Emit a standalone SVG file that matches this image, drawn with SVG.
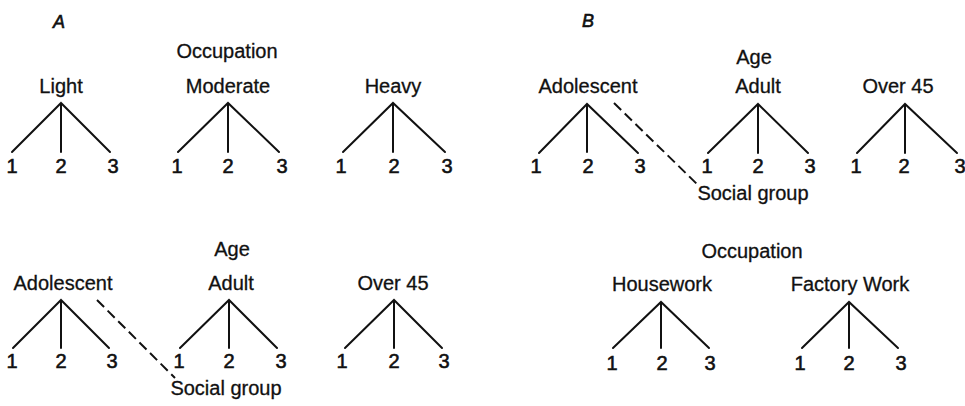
<svg xmlns="http://www.w3.org/2000/svg" width="965" height="406" viewBox="0 0 965 406">
<style>
text{font-family:"Liberation Sans",Arial,sans-serif;font-size:20px;fill:#111;stroke:#111;stroke-width:0.3;text-anchor:middle}
.lbl{font-style:italic;font-size:18px;stroke-width:0.6}
.num{font-size:20px;stroke-width:0.6}
.edge{stroke:#111;stroke-width:2;fill:none;stroke-linecap:round}
.dash{stroke:#111;stroke-width:2;fill:none;stroke-dasharray:10 5}
</style>
<rect width="965" height="406" fill="#fff"/>
<text class="lbl" x="59" y="28">A</text>
<text class="lbl" x="588" y="27">B</text>

<!-- Panel A top -->
<g id="a-occupation"><text x="227" y="58">Occupation</text></g>
<g id="a-light"><text x="61" y="93">Light</text></g>
<g id="a-moderate"><text x="228" y="93">Moderate</text></g>
<g id="a-heavy"><text x="393" y="93">Heavy</text></g>
<g id="a-light-nums"><text class="num" x="12" y="173">1</text><text class="num" x="61" y="173">2</text><text class="num" x="113" y="173">3</text></g>
<g id="a-moderate-nums"><text class="num" x="177" y="173">1</text><text class="num" x="228" y="173">2</text><text class="num" x="282" y="173">3</text></g>
<g id="a-heavy-nums"><text class="num" x="341" y="173">1</text><text class="num" x="394" y="173">2</text><text class="num" x="447" y="173">3</text></g>

<!-- Panel A bottom -->
<g id="a-age"><text x="232" y="256">Age</text></g>
<g id="a-adolescent"><text x="63" y="290">Adolescent</text></g>
<g id="a-adult"><text x="231" y="290">Adult</text></g>
<g id="a-over45"><text x="393" y="290">Over 45</text></g>
<g id="a-social"><text x="226" y="395">Social group</text></g>
<g id="a-adolescent-nums"><text class="num" x="12" y="368">1</text><text class="num" x="61" y="368">2</text><text class="num" x="112" y="368">3</text></g>
<g id="a-adult-nums"><text class="num" x="179" y="368">1</text><text class="num" x="229" y="368">2</text><text class="num" x="281" y="368">3</text></g>
<g id="a-over45-nums"><text class="num" x="342" y="368">1</text><text class="num" x="394" y="368">2</text><text class="num" x="444" y="368">3</text></g>

<!-- Panel B top -->
<g id="b-age"><text x="754" y="64">Age</text></g>
<g id="b-adolescent"><text x="588" y="93">Adolescent</text></g>
<g id="b-adult"><text x="758" y="93">Adult</text></g>
<g id="b-over45"><text x="898" y="93">Over 45</text></g>
<g id="b-social"><text x="753" y="200">Social group</text></g>
<g id="b-adolescent-nums"><text class="num" x="536" y="173">1</text><text class="num" x="588" y="173">2</text><text class="num" x="640" y="173">3</text></g>
<g id="b-adult-nums"><text class="num" x="707" y="173">1</text><text class="num" x="758" y="173">2</text><text class="num" x="810" y="173">3</text></g>
<g id="b-over45-nums"><text class="num" x="856" y="173">1</text><text class="num" x="904" y="173">2</text><text class="num" x="960" y="173">3</text></g>

<!-- Panel B bottom -->
<g id="b-occupation"><text x="752" y="258">Occupation</text></g>
<g id="b-housework"><text x="662" y="291">Housework</text></g>
<g id="b-factory"><text x="850" y="291">Factory Work</text></g>
<g id="b-housework-nums"><text class="num" x="612" y="370">1</text><text class="num" x="662" y="370">2</text><text class="num" x="710" y="370">3</text></g>
<g id="b-factory-nums"><text class="num" x="800" y="370">1</text><text class="num" x="849" y="370">2</text><text class="num" x="901" y="370">3</text></g>

<g id="connectors">
<path class="edge" d="M12 152L61 103L110 152M61 103V152"/>
<path class="edge" d="M178 152L228 103L279 152M228 103V152"/>
<path class="edge" d="M343 152L393 103L445 152M393 103V152"/>
<path class="edge" d="M13 348L61 300L109 348M61 300V348"/>
<path class="edge" d="M180 348L229 300L277 348M229 300V348"/>
<path class="edge" d="M345 348L394 300L442 348M394 300V348"/>
<path class="dash" d="M97 300L175 378"/>
<path class="edge" d="M539 153L587 104L638 153M587 104V152"/>
<path class="edge" d="M708 153L758 104L808 153M758 104V153"/>
<path class="edge" d="M857 153L905 104L957 153M905 104V153"/>
<path class="dash" d="M614 103L699 186"/>
<path class="edge" d="M613 348L661 302L709 348M661 302V348"/>
<path class="edge" d="M802 348L849 302L898 348M849 302V348"/>
</g>
</svg>
